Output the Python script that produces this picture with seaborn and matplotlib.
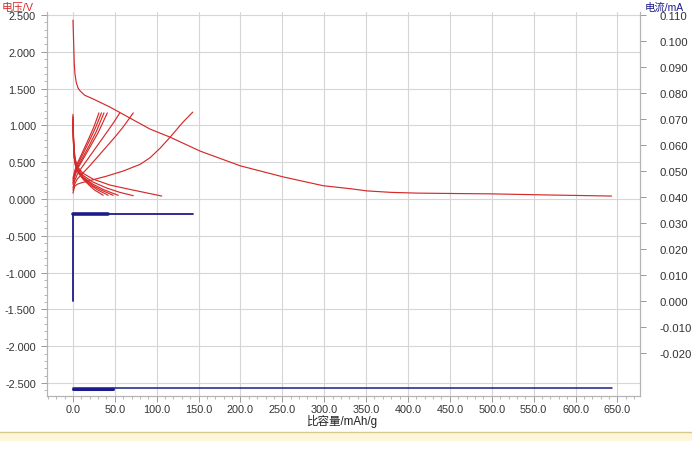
import pandas as pd
import seaborn as sns
import matplotlib.pyplot as plt
from matplotlib.ticker import MultipleLocator, FormatStrFormatter
from matplotlib.patches import Rectangle

# voltage curves (specific capacity mAh/g, voltage V)
d1_cap = [0, 0.5, 1, 1.5, 2.4, 4, 6, 8.4, 14, 24, 44, 60, 76, 92, 116, 152, 200,
          251, 299, 331, 351, 380, 411, 450, 498, 566, 618, 643]
d1_v = [2.43, 2.25, 2.05, 1.85, 1.70, 1.58, 1.51, 1.47, 1.41, 1.36, 1.25, 1.15, 1.05,
        0.95, 0.84, 0.65, 0.45, 0.30, 0.18, 0.14, 0.11, 0.09, 0.08, 0.075, 0.07,
        0.055, 0.045, 0.04]

c1_cap = [0, 2, 5, 10, 20, 40, 60, 80, 92, 104, 116, 131, 143]
c1_v = [0.08, 0.17, 0.20, 0.22, 0.25, 0.31, 0.38, 0.47, 0.56, 0.69, 0.84, 1.04, 1.18]
c2_cap = [0, 2, 5, 10, 20, 30, 40, 50, 60, 72]
c2_v = [0.12, 0.20, 0.27, 0.33, 0.45, 0.58, 0.71, 0.84, 0.98, 1.17]
c3_cap = [0, 2, 5, 10, 20, 30, 40, 48, 56]
c3_v = [0.15, 0.25, 0.33, 0.42, 0.58, 0.74, 0.90, 1.03, 1.17]
c4_cap = [0, 2, 5, 10, 20, 30, 41]
c4_v = [0.20, 0.30, 0.40, 0.50, 0.70, 0.90, 1.17]
c5_cap = [0, 2, 5, 10, 20, 28, 37]
c5_v = [0.22, 0.32, 0.42, 0.53, 0.74, 0.92, 1.17]
c6_cap = [0, 2, 5, 10, 20, 27, 34]
c6_v = [0.25, 0.35, 0.45, 0.57, 0.80, 0.97, 1.17]
c7_cap = [0, 2, 5, 10, 20, 25, 31]
c7_v = [0.28, 0.38, 0.48, 0.60, 0.85, 0.98, 1.17]

d2_cap = [0, 0.5, 1.5, 3, 6, 12, 24, 44, 64, 85, 106]
d2_v = [1.15, 0.90, 0.66, 0.53, 0.43, 0.35, 0.27, 0.19, 0.14, 0.09, 0.04]
d3_cap = [0, 0.5, 1.5, 3, 6, 12, 24, 40, 56, 72]
d3_v = [1.12, 0.86, 0.62, 0.50, 0.41, 0.32, 0.23, 0.15, 0.09, 0.045]
d4_cap = [0, 0.5, 1.5, 3, 6, 12, 24, 36, 46, 54]
d4_v = [1.10, 0.84, 0.60, 0.48, 0.39, 0.30, 0.20, 0.13, 0.085, 0.05]
d5_cap = [0, 0.5, 1.5, 3, 6, 12, 24, 34, 42, 48]
d5_v = [1.08, 0.82, 0.58, 0.47, 0.38, 0.29, 0.18, 0.12, 0.08, 0.05]
d6_cap = [0, 0.5, 1.5, 3, 6, 12, 22, 30, 37, 42]
d6_v = [1.05, 0.80, 0.57, 0.46, 0.37, 0.28, 0.18, 0.12, 0.08, 0.05]
d7_cap = [0, 0.5, 1.5, 3, 6, 12, 20, 26, 32, 36]
d7_v = [1.00, 0.78, 0.56, 0.45, 0.36, 0.27, 0.18, 0.12, 0.08, 0.05]

# current traces (mAh/g, mA)
chg_i_cap = [0, 0, 143]
chg_i = [0.0, 0.0335, 0.0335]
chg_band_cap = [0, 42]
chg_band_i = [0.0335, 0.0335]
dis_i_cap = [0, 643]
dis_i = [-0.0335, -0.0335]
dis_band_cap = [0, 48]
dis_band_i = [-0.0337, -0.0337]

x_ticks = list(range(0, 651, 50))
left_ticks = [-2.5, -2.0, -1.5, -1.0, -0.5, 0.0, 0.5, 1.0, 1.5, 2.0, 2.5]
right_ticks = [-0.02, -0.01, 0.0, 0.01, 0.02, 0.03, 0.04, 0.05, 0.06, 0.07,
               0.08, 0.09, 0.10, 0.11]

volt_curves = {
    "d1": (d1_cap, d1_v), "c1": (c1_cap, c1_v), "d2": (d2_cap, d2_v),
    "c2": (c2_cap, c2_v), "d3": (d3_cap, d3_v), "c3": (c3_cap, c3_v),
    "d4": (d4_cap, d4_v), "c4": (c4_cap, c4_v), "d5": (d5_cap, d5_v),
    "c5": (c5_cap, c5_v), "d6": (d6_cap, d6_v), "c6": (c6_cap, c6_v),
    "d7": (d7_cap, d7_v), "c7": (c7_cap, c7_v),
}
volt_df = pd.concat(
    [pd.DataFrame({"curve": k, "cap": c, "v": v}) for k, (c, v) in volt_curves.items()],
    ignore_index=True)

sns.set_style("white")
plt.rcParams["font.family"] = ["Liberation Sans", "Noto Sans CJK SC", "DejaVu Sans"]

RED = "#d42a2a"
BLUE = "#1c1c8c"
GRID = "#d6d6d6"

fig = plt.figure(figsize=(6.92, 4.52), dpi=100)
ax = fig.add_axes([47 / 692, 55 / 452, 593 / 692, 384 / 452])

sns.lineplot(data=volt_df, x="cap", y="v", units="curve", estimator=None,
             sort=False, color=RED, lw=0.85, ax=ax)

ax2 = ax.twinx()
for cc, ii, lw in [(chg_i_cap, chg_i, 1.3), (chg_band_cap, chg_band_i, 2.6),
                   (dis_i_cap, dis_i, 1.1), (dis_band_cap, dis_band_i, 2.2)]:
    sns.lineplot(x=cc, y=ii, estimator=None, sort=False, color=BLUE, lw=lw, ax=ax2)

ax.set_xlim(-31, 677)
ax.set_ylim(-2.677, 2.541)
ax2.set_ylim(-0.0365, 0.1112)

ax.set_xticks(x_ticks)
ax.xaxis.set_minor_locator(MultipleLocator(10))
ax.xaxis.set_major_formatter(FormatStrFormatter("%.1f"))
ax.set_yticks(left_ticks)
ax.yaxis.set_minor_locator(MultipleLocator(0.1))
ax.yaxis.set_major_formatter(FormatStrFormatter("%.3f"))
ax2.set_yticks(right_ticks)
ax2.yaxis.set_major_formatter(FormatStrFormatter("%.3f"))

ax.grid(True, which="major", color=GRID, lw=0.8)
ax.set_axisbelow(True)
ax.set_xlabel("")
ax.set_ylabel("")
ax2.set_ylabel("")

ax.tick_params(axis="both", which="major", length=4, width=0.7, color="#999999",
               labelsize=7.8, labelcolor="#333333", direction="out")
ax.tick_params(axis="both", which="minor", length=2.5, width=0.6, color="#aaaaaa",
               direction="out")
ax.tick_params(axis="y", which="major", pad=4)
ax.tick_params(axis="x", which="major", pad=1.5)
ax.tick_params(left=True, bottom=True, which="both")
ax2.tick_params(axis="y", length=4, width=0.7, color="#999999", labelsize=8.2,
                labelcolor="#333333", pad=10)

for a in (ax, ax2):
    for s in a.spines.values():
        s.set_color("#b4b4b4")
        s.set_linewidth(0.8)
    a.spines["top"].set_visible(False)

fig.text(2 / 692, 1 - 8 / 452, "电压/V", color=RED, fontsize=7.8, va="center",
         ha="left")
fig.text(645 / 692, 1 - 8 / 452, "电流/mA", color=BLUE, fontsize=7.5, va="center",
         ha="left")
fig.text(343 / 692, 1 - 421 / 452, "比容量/mAh/g", color="#222222", fontsize=8.3,
         va="center", ha="center")

# page strip below the chart
fig.patches.append(Rectangle((0, 1 - 442 / 452), 1, 9 / 452, transform=fig.transFigure,
                             facecolor="#fdf6d8", edgecolor="none"))
fig.lines.append(plt.Line2D([0, 1], [1 - 433 / 452] * 2, transform=fig.transFigure,
                            color="#d8c890", lw=1.0))

fig.savefig("out.png", dpi=100)
